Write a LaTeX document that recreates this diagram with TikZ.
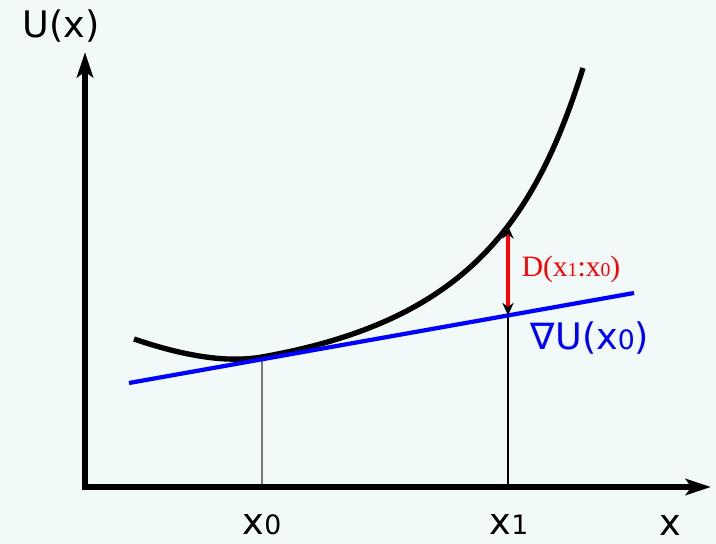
\documentclass[tikz,border=0pt]{standalone}
\usepackage{fontspec}
\newfontfamily\plotfont{DejaVu Sans}
\newfontfamily\gapfont{Liberation Serif}
\usetikzlibrary{arrows.meta}
\definecolor{paperTint}{RGB}{241,249,249}
\definecolor{guideGray}{RGB}{120,120,120}
\newcommand{\smalldigit}[1]{{\fontsize{19}{19}\selectfont #1}}
\newcommand{\tinydigit}[1]{{\fontsize{14}{14}\selectfont #1}}

\begin{document}
\begin{tikzpicture}[
        x=0.025cm, y=0.025cm,
        axis/.style={line width=4.2pt, line join=miter, {Stealth[length=18pt, width=11.5pt, inset=4pt]}-{Stealth[length=18pt, width=11.5pt, inset=4pt]}},
        energy/.style={line width=3.8pt, black},
        tangent/.style={line width=3pt, blue},
        guide/.style={line width=0.8pt},
        gap/.style={line width=3.3pt, red, {Stealth[black, length=9pt, width=8pt]}-{Stealth[black, length=9pt, width=8pt]}},
        lbl/.style={inner sep=0pt, font=\plotfont\fontsize{26}{26}\selectfont},
        gaplbl/.style={inner sep=0pt, red, font=\gapfont\fontsize{21}{21}\selectfont}
    ]
        \fill[paperTint] (0,0) rectangle (716,544);
        \useasboundingbox (0,0) rectangle (716,544);

        % axes
        \coordinate (O) at (85,57);
        \coordinate (ytip) at (85,492);
        \coordinate (xtip) at (711,57);

        % points on the curve, the tangent and the axis
        \coordinate (u0) at (134,205);
        \coordinate (t0) at (262,187);
        \coordinate (uend) at (583,476);
        \coordinate (f0) at (262,57);
        \coordinate (c1) at (508,318);
        \coordinate (g1) at (508,228.5);
        \coordinate (f1) at (508,57);
        \coordinate (gradA) at (129,161);
        \coordinate (gradB) at (634,251);

        \draw[guide, guideGray] (t0) -- (f0);
        \draw[guide, black] (c1) -- (f1);

        \draw[energy] (u0) .. controls (175,191) and (222,180) .. (t0)
            .. controls (462,222.6) and (533,316) .. (uend);
        \draw[tangent] (gradA) -- (gradB);
        \draw[gap] (c1) -- (g1);

        \draw[axis] (ytip) -- (O) -- (xtip);

        \node[lbl, anchor=base] (ulabel) at (61,506) {U(x)};
        \node[lbl, anchor=base] (x0label) at (262,9) {x\smalldigit{0}};
        \node[lbl, anchor=base] (x1label) at (509,9) {x\smalldigit{1}};
        \node[lbl, anchor=base] (xlabel) at (670,8) {x};
        \node[gaplbl, anchor=base] (dlabel) at (571,267) {D(x\tinydigit{1}:x\tinydigit{0})};
        \node[lbl, blue, anchor=base] (gradlabel) at (590,194) {∇U(x\smalldigit{0})};
    \end{tikzpicture}
\end{document}
